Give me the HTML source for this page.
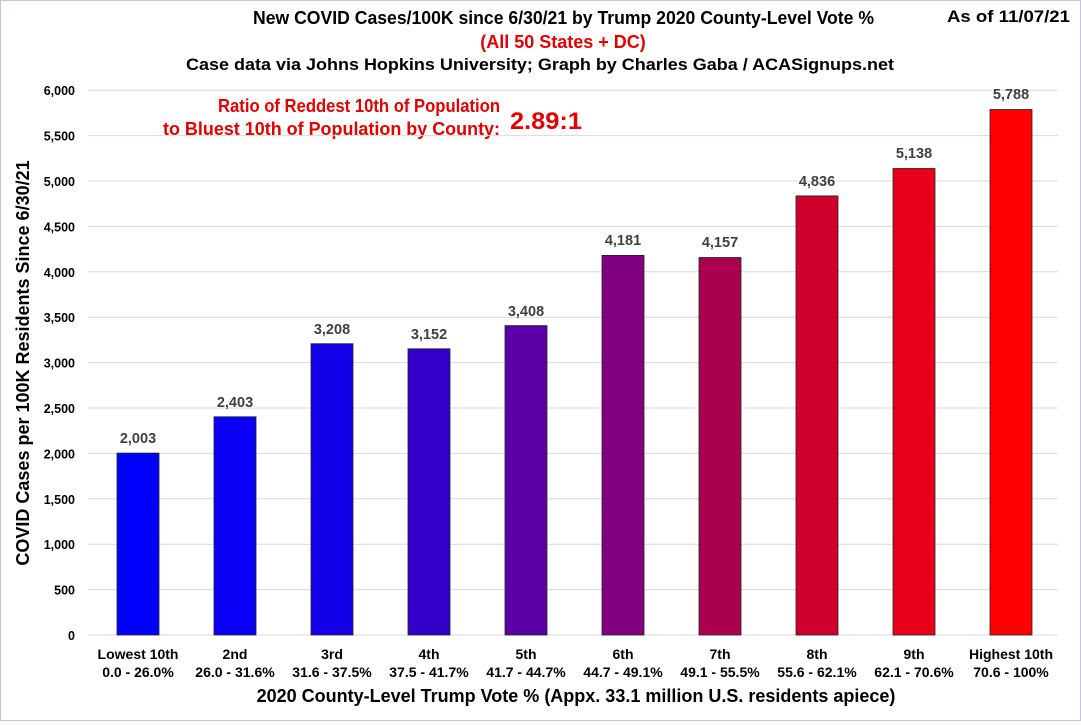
<!DOCTYPE html>
<html><head><meta charset="utf-8"><style>
body{margin:0;background:#fff;}
svg text{font-family:"Liberation Sans",Arial,sans-serif;font-weight:bold;}
</style></head><body>
<svg width="1081" height="721" viewBox="0 0 1081 721" xmlns="http://www.w3.org/2000/svg">
<rect x="0.5" y="0.5" width="1080" height="720" fill="#fff" stroke="#c8c0dc"/>
<text x="253" y="24" font-size="18" textLength="621" lengthAdjust="spacingAndGlyphs" fill="#000">New COVID Cases/100K since 6/30/21 by Trump 2020 County-Level Vote %</text>
<text x="947" y="22" font-size="17" textLength="123" lengthAdjust="spacingAndGlyphs" fill="#000">As of 11/07/21</text>
<text x="563" y="48" font-size="18" text-anchor="middle" fill="#e00000">(All 50 States + DC)</text>
<text x="186" y="70" font-size="17" textLength="708" lengthAdjust="spacingAndGlyphs" fill="#000">Case data via Johns Hopkins University; Graph by Charles Gaba / ACASignups.net</text>
<text x="218" y="112" font-size="18" textLength="282" lengthAdjust="spacingAndGlyphs" fill="#e00000">Ratio of Reddest 10th of Population</text>
<text x="163" y="135" font-size="18" textLength="337" lengthAdjust="spacingAndGlyphs" fill="#e00000">to Bluest 10th of Population by County:</text>
<text x="510" y="129" font-size="24" textLength="72" lengthAdjust="spacingAndGlyphs" fill="#e00000">2.89:1</text>
<g stroke="#d9d9d9" stroke-width="1">
<line x1="88" y1="635" x2="1058" y2="635"/><line x1="88" y1="589.6" x2="1058" y2="589.6"/>
<line x1="88" y1="544.2" x2="1058" y2="544.2"/><line x1="88" y1="498.8" x2="1058" y2="498.8"/>
<line x1="88" y1="453.4" x2="1058" y2="453.4"/><line x1="88" y1="408" x2="1058" y2="408"/>
<line x1="88" y1="362.6" x2="1058" y2="362.6"/><line x1="88" y1="317.2" x2="1058" y2="317.2"/>
<line x1="88" y1="271.8" x2="1058" y2="271.8"/><line x1="88" y1="226.4" x2="1058" y2="226.4"/>
<line x1="88" y1="181" x2="1058" y2="181"/><line x1="88" y1="135.6" x2="1058" y2="135.6"/>
<line x1="88" y1="90.2" x2="1058" y2="90.2"/>
</g>
<g font-size="12.5" text-anchor="end" fill="#000">
<text x="75" y="640">0</text><text x="75" y="594.6">500</text><text x="75" y="549.2">1,000</text>
<text x="75" y="503.8">1,500</text><text x="75" y="458.4">2,000</text><text x="75" y="413">2,500</text>
<text x="75" y="367.6">3,000</text><text x="75" y="322.2">3,500</text><text x="75" y="276.8">4,000</text>
<text x="75" y="231.4">4,500</text><text x="75" y="186">5,000</text><text x="75" y="140.6">5,500</text>
<text x="75" y="95.2">6,000</text>
</g>
<text x="29" y="363" font-size="18" text-anchor="middle" transform="rotate(-90 29 363)">COVID Cases per 100K Residents Since 6/30/21</text>
<g stroke="#222" stroke-width="0.8">
<rect x="117" y="453.1" width="42" height="181.9" fill="#0000ff"/>
<rect x="214" y="416.8" width="42" height="218.2" fill="#0a00f5"/>
<rect x="311" y="343.7" width="42" height="291.3" fill="#1400e8"/>
<rect x="408" y="348.8" width="42" height="286.2" fill="#3200c8"/>
<rect x="505" y="325.6" width="42" height="309.4" fill="#5a00a5"/>
<rect x="602" y="255.4" width="42" height="379.6" fill="#800080"/>
<rect x="699" y="257.5" width="42" height="377.5" fill="#aa0050"/>
<rect x="796" y="195.9" width="42" height="439.1" fill="#d0002e"/>
<rect x="893" y="168.5" width="42" height="466.5" fill="#e8001a"/>
<rect x="990" y="109.5" width="42" height="525.5" fill="#ff0000"/>
</g>
<g font-size="14.5" text-anchor="middle" fill="#404040">
<text x="138" y="443">2,003</text><text x="235" y="407">2,403</text><text x="332" y="334">3,208</text>
<text x="429" y="339">3,152</text><text x="526" y="316">3,408</text><text x="623" y="245">4,181</text>
<text x="720" y="247">4,157</text><text x="817" y="186">4,836</text><text x="914" y="158">5,138</text>
<text x="1011" y="99">5,788</text>
</g>
<g font-size="14" text-anchor="middle" fill="#000">
<text x="138" y="659">Lowest 10th</text><text x="138" y="677">0.0 - 26.0%</text>
<text x="235" y="659">2nd</text><text x="235" y="677">26.0 - 31.6%</text>
<text x="332" y="659">3rd</text><text x="332" y="677">31.6 - 37.5%</text>
<text x="429" y="659">4th</text><text x="429" y="677">37.5 - 41.7%</text>
<text x="526" y="659">5th</text><text x="526" y="677">41.7 - 44.7%</text>
<text x="623" y="659">6th</text><text x="623" y="677">44.7 - 49.1%</text>
<text x="720" y="659">7th</text><text x="720" y="677">49.1 - 55.5%</text>
<text x="817" y="659">8th</text><text x="817" y="677">55.6 - 62.1%</text>
<text x="914" y="659">9th</text><text x="914" y="677">62.1 - 70.6%</text>
<text x="1011" y="659">Highest 10th</text><text x="1011" y="677">70.6 - 100%</text>
</g>
<text x="576" y="702" font-size="18" text-anchor="middle" fill="#000">2020 County-Level Trump Vote % (Appx. 33.1 million U.S. residents apiece)</text>
</svg>
</body></html>
